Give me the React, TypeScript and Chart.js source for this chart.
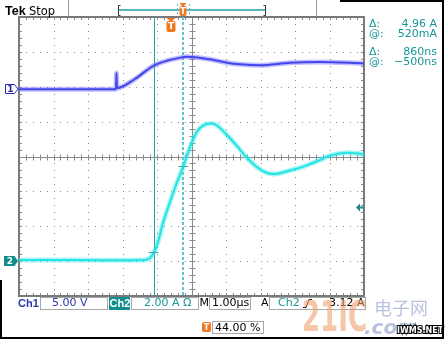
import React, { useEffect, useRef } from "react";
import { Chart, registerables } from "chart.js";
Chart.register(...registerables);

// time axis in microseconds (1.00 µs/div, trigger at 44 %)
const timeMin = -4.4;
const timeMax = 5.6;
// Ch1: volts (5.00 V/div)
const ch1Times = [-4.4, -1.59, -1.575, -1.56, -1.04, -0.516, -0.11, 0.18, 0.47, 1.136, 1.629, 2.006, 2.586, 3.455, 4.325, 5.6];
const ch1Volts = [0, 0, 2.34, 0.19, 1.48, 3.34, 4.1, 4.44, 4.67, 4.3, 3.81, 3.58, 3.44, 3.81, 3.91, 3.72];
const ch1Range = [-29.63, 10.37];
// Ch2: amps (2.00 A/div)
const ch2Times = [-4.4, -0.748, -0.603, -0.487, -0.371, -0.217, -0.023, 0.171, 0.362, 0.557, 0.751, 0.942, 1.165, 1.33, 1.62, 1.91, 2.18, 2.49, 2.78, 3.02, 3.455, 3.841, 4.229, 4.614, 5.0, 5.388, 5.6];
const ch2Amps = [0.07, 0.07, 0.18, 0.51, 1.1, 2.25, 3.39, 4.48, 5.43, 6.54, 7.4, 7.78, 7.89, 7.79, 7.25, 6.62, 5.99, 5.4, 5.07, 5.0, 5.2, 5.42, 5.72, 6.05, 6.2, 6.18, 6.1];
const ch2Range = [-2, 14];
// cursors
const cursorTimes = [-0.5, 0.36];
const cursorAmps = [0.52, 5.48];
const triggerLevel = 3.12;
const readouts = [
  ["Δ:", "4.96 A"],
  ["@:", "520mA"],
  ["Δ:", "860ns"],
  ["@:", "−500ns"],
];

const TEAL = "#1a9696";
const BLUE = "#2838a8";
const ORANGE = "#f07820";
const FONT = "'DejaVu Sans', sans-serif";
const ARIAL = "'Liberation Sans', Arial, sans-serif";

function pts(xs: number[], ys: number[]) {
  return xs.map((x, i) => ({ x, y: ys[i] }));
}

const scopePlugin = {
  id: "scope",
  beforeDatasetsDraw(chart: any) {
    const { ctx, chartArea: a, scales } = chart;
    const L = a.left, R = a.right, T = a.top, B = a.bottom;
    const dx = (R - L) / 10, dy = (B - T) / 8;
    ctx.save();
    // dotted grid
    ctx.fillStyle = "#8a8a8a";
    for (let i = 1; i < 10; i++) {
      if (i === 5) continue;
      const x = Math.round(L + i * dx);
      for (let j = 1; j < 40; j++) {
        ctx.fillRect(x, Math.round(T + (j * dy) / 5), 1, 1);
      }
    }
    for (let j = 1; j < 8; j++) {
      if (j === 4) continue;
      const y = Math.round(T + j * dy);
      for (let i = 1; i < 50; i++) {
        ctx.fillRect(Math.round(L + (i * dx) / 5), y, 1, 1);
      }
    }
    // center crosshair with ticks
    ctx.strokeStyle = "#8a8a8a";
    ctx.lineWidth = 1;
    const cx = Math.round(L + 5 * dx) + 0.5, cy = Math.round(T + 4 * dy) + 0.5;
    ctx.beginPath();
    ctx.moveTo(cx, T); ctx.lineTo(cx, B);
    ctx.moveTo(L, cy); ctx.lineTo(R, cy);
    for (let i = 1; i < 50; i++) {
      const x = Math.round(L + (i * dx) / 5) + 0.5;
      ctx.moveTo(x, cy - 3); ctx.lineTo(x, cy + 3);
      ctx.moveTo(x, T); ctx.lineTo(x, T + 3);
      ctx.moveTo(x, B); ctx.lineTo(x, B - 3);
    }
    for (let j = 1; j < 40; j++) {
      const y = Math.round(T + (j * dy) / 5) + 0.5;
      ctx.moveTo(cx - 3, y); ctx.lineTo(cx + 3, y);
      ctx.moveTo(L, y); ctx.lineTo(L + 3, y);
      ctx.moveTo(R, y); ctx.lineTo(R - 3, y);
    }
    ctx.stroke();
    // border
    ctx.strokeStyle = "#7a7a7a";
    ctx.lineWidth = 2;
    ctx.strokeRect(L, T, R - L, B - T);
    // cursors
    const x1 = Math.round(scales.x.getPixelForValue(cursorTimes[0])) + 0.5;
    const x2 = Math.round(scales.x.getPixelForValue(cursorTimes[1]));
    ctx.strokeStyle = "#26a0a0";
    ctx.lineWidth = 1;
    ctx.beginPath(); ctx.moveTo(x1, T); ctx.lineTo(x1, B); ctx.stroke();
    ctx.strokeStyle = "#5cc6c6";
    ctx.lineWidth = 2;
    ctx.setLineDash([3, 2]);
    ctx.beginPath(); ctx.moveTo(x2, T); ctx.lineTo(x2, B); ctx.stroke();
    ctx.setLineDash([]);
    ctx.restore();
  },
  afterDraw(chart: any) {
    const { ctx, chartArea: a, scales } = chart;
    const R = a.right, T = a.top;
    ctx.save();
    // cursor crossing ticks on Ch2
    ctx.strokeStyle = "#48a8a8";
    ctx.lineWidth = 1;
    for (let k = 0; k < 2; k++) {
      const x = scales.x.getPixelForValue(cursorTimes[k]);
      const y = Math.round(scales.y.getPixelForValue(cursorAmps[k])) + 0.5;
      ctx.beginPath(); ctx.moveTo(x - 5, y); ctx.lineTo(x + 5, y); ctx.stroke();
    }
    // trigger position marker (orange T)
    const tx = Math.round(scales.x.getPixelForValue(0));
    const drawT = (x: number, y: number, w: number, h: number, arrow: boolean) => {
      ctx.fillStyle = ORANGE;
      if (arrow) {
        ctx.beginPath();
        ctx.moveTo(x - w / 2, y); ctx.lineTo(x + w / 2, y); ctx.lineTo(x, y + 4); ctx.closePath(); ctx.fill();
        y += 3;
      }
      ctx.beginPath();
      ctx.roundRect(x - w / 2, y, w, h, 2);
      ctx.fill();
      ctx.fillStyle = "#fff";
      ctx.font = `bold ${h - 2}px ${FONT}`;
      ctx.textAlign = "center";
      ctx.textBaseline = "middle";
      ctx.fillText("T", x, y + h / 2 + 0.5);
    };
    drawT(tx, T + 1, 9, 11, true);
    // trigger level arrow on right
    const ty = Math.round(scales.y.getPixelForValue(triggerLevel)) + 0.5;
    ctx.fillStyle = "#138c8c";
    ctx.beginPath();
    ctx.moveTo(R - 8, ty); ctx.lineTo(R - 4, ty - 4); ctx.lineTo(R - 4, ty + 4); ctx.closePath(); ctx.fill();
    ctx.fillRect(R - 4, ty - 1, 3, 2);
    // channel ground markers
    const g1 = Math.round(scales.y1.getPixelForValue(0));
    ctx.fillStyle = "#fff";
    ctx.strokeStyle = "#2a2ab0";
    ctx.lineWidth = 1;
    ctx.beginPath();
    ctx.moveTo(5.5, g1 - 4.5); ctx.lineTo(14.5, g1 - 4.5); ctx.lineTo(18, g1); ctx.lineTo(14.5, g1 + 4.5); ctx.lineTo(5.5, g1 + 4.5); ctx.closePath();
    ctx.fill(); ctx.stroke();
    ctx.fillStyle = "#2a2ab0";
    ctx.font = `bold 9px ${FONT}`;
    ctx.textAlign = "center";
    ctx.textBaseline = "middle";
    ctx.fillText("1", 10.5, g1 + 0.5);
    const g2 = Math.round(scales.y.getPixelForValue(0));
    ctx.fillStyle = "#138c8c";
    ctx.beginPath();
    ctx.moveTo(4, g2 - 5); ctx.lineTo(14.5, g2 - 5); ctx.lineTo(18, g2); ctx.lineTo(14.5, g2 + 5); ctx.lineTo(4, g2 + 5); ctx.closePath();
    ctx.fill();
    ctx.fillStyle = "#fff";
    ctx.fillText("2", 10, g2 + 0.5);

    // header
    ctx.textAlign = "left";
    ctx.textBaseline = "alphabetic";
    ctx.fillStyle = "#000";
    ctx.font = `bold 12.5px ${ARIAL}`;
    ctx.fillText("Tek", 5, 15);
    ctx.font = `11.5px ${FONT}`;
    ctx.fillText("Stop", 29, 15);
    ctx.strokeStyle = "#9a9a9a";
    ctx.lineWidth = 1;
    ctx.beginPath();
    ctx.moveTo(68.5, 0); ctx.lineTo(68.5, 16);
    ctx.moveTo(316.5, 0); ctx.lineTo(316.5, 16);
    ctx.stroke();
    // record bar
    ctx.strokeStyle = "#5ab8b8";
    ctx.lineWidth = 2;
    ctx.beginPath(); ctx.moveTo(119, 10); ctx.lineTo(265, 10); ctx.stroke();
    ctx.strokeStyle = "#333";
    ctx.lineWidth = 1;
    ctx.beginPath();
    ctx.moveTo(120.5, 5.5); ctx.lineTo(118.5, 5.5); ctx.lineTo(118.5, 15.5); ctx.lineTo(120.5, 15.5);
    ctx.moveTo(263.5, 5.5); ctx.lineTo(265.5, 5.5); ctx.lineTo(265.5, 15.5); ctx.lineTo(263.5, 15.5);
    ctx.stroke();
    ctx.strokeStyle = "#5cc6c6";
    ctx.setLineDash([2, 2]);
    ctx.lineWidth = 1;
    ctx.beginPath();
    ctx.moveTo(177.5, 4); ctx.lineTo(177.5, 16);
    ctx.moveTo(189.5, 4); ctx.lineTo(189.5, 16);
    ctx.stroke();
    ctx.setLineDash([]);
    drawT(183, 3, 7, 10, true);

    // right readouts
    ctx.textBaseline = "middle";
    ctx.font = `11px ${FONT}`;
    ctx.fillStyle = TEAL;
    const ry = [24.5, 34.5, 52, 62.5];
    readouts.forEach((r, i) => {
      ctx.textAlign = "left";
      ctx.fillText(r[0], 369, ry[i]);
      ctx.textAlign = "right";
      ctx.fillText(r[1], 437, ry[i]);
    });

    // bottom status line
    const by = 303.5;
    const box = (x0: number, x1: number, y0: number, y1: number) => {
      ctx.fillStyle = "#fff";
      ctx.fillRect(x0, y0, x1 - x0, y1 - y0);
      ctx.strokeStyle = "#a8a8a8";
      ctx.lineWidth = 1;
      ctx.strokeRect(x0 + 0.5, y0 + 0.5, x1 - x0 - 1, y1 - y0 - 1);
    };
    box(40, 108, 297, 310);
    box(131, 199, 297, 310);
    box(209, 251, 297, 310);
    box(269, 366, 297, 310);
    ctx.fillStyle = "#138c8c";
    ctx.fillRect(109, 297, 21, 13);
    ctx.textAlign = "left";
    ctx.font = `bold 11px ${ARIAL}`;
    ctx.fillStyle = BLUE;
    ctx.fillText("Ch1", 18, by);
    ctx.fillStyle = "#fff";
    ctx.fillText("Ch2", 109.5, by);
    ctx.font = `11px ${FONT}`;
    ctx.fillStyle = BLUE;
    ctx.fillText("5.00 V", 52, by);
    ctx.fillStyle = TEAL;
    ctx.fillText("2.00 A Ω", 144, by);
    ctx.fillStyle = "#000";
    ctx.fillText("M", 199.5, by);
    ctx.fillText("1.00µs", 212, by);
    ctx.fillText("A", 261, by);
    ctx.fillStyle = TEAL;
    ctx.fillText("Ch2", 278, by);
    ctx.fillStyle = "#000";
    ctx.fillText("3.12 A", 329, by);
    // rising edge symbol
    ctx.strokeStyle = "#000";
    ctx.lineWidth = 1;
    ctx.beginPath();
    ctx.moveTo(303, 307.5); ctx.lineTo(306, 307.5); ctx.lineTo(309, 299.5); ctx.lineTo(312, 299.5);
    ctx.stroke();
    // trigger position readout
    drawT(206.5, 322, 9, 10, false);
    box(212, 264, 321, 334);
    ctx.fillStyle = "#000";
    ctx.font = `11px ${FONT}`;
    ctx.textAlign = "left";
    ctx.textBaseline = "middle";
    ctx.fillText("44.00 %", 215, 328);

    // watermark
    ctx.globalAlpha = 0.6;
    ctx.save();
    ctx.translate(302, 331);
    ctx.scale(0.62, 1);
    ctx.fillStyle = "#f0a070";
    ctx.font = `bold 42px ${FONT}`;
    ctx.textAlign = "left";
    ctx.textBaseline = "alphabetic";
    ctx.fillText("21IC", 0, 0);
    ctx.restore();
    ctx.fillStyle = "#8898c8";
    ctx.font = `18px 'Noto Sans CJK SC', sans-serif`;
    ctx.textAlign = "left";
    ctx.textBaseline = "alphabetic";
    ctx.fillText("电子网", 374, 315);
    ctx.font = `italic bold 20px ${FONT}`;
    ctx.fillText(".com", 364, 334);
    ctx.globalAlpha = 1;
    ctx.font = `bold 8px ${FONT}`;
    ctx.lineWidth = 2;
    ctx.strokeStyle = "#000";
    ctx.strokeText("IWMS.NET", 397, 333);
    ctx.fillStyle = "#fff";
    ctx.fillText("IWMS.NET", 397, 333);

    // outer frame
    ctx.strokeStyle = "#000";
    ctx.lineWidth = 2;
    ctx.beginPath();
    ctx.moveTo(443, 0); ctx.lineTo(443, 338); ctx.lineTo(0, 338);
    ctx.moveTo(1, 280); ctx.lineTo(1, 338);
    ctx.moveTo(340, 1); ctx.lineTo(443, 1);
    ctx.stroke();
    ctx.restore();
  },
};

export default function App() {
  const ref = useRef<HTMLCanvasElement | null>(null);
  useEffect(() => {
    if (!ref.current) return;
    const ch1 = pts(ch1Times, ch1Volts);
    const ch2 = pts(ch2Times, ch2Amps);
    const c1 = { pointRadius: 0, fill: false, cubicInterpolationMode: "monotone" as const, yAxisID: "y1" };
    const c2 = { pointRadius: 0, fill: false, tension: 0.4, yAxisID: "y" };
    const chart = new Chart(ref.current, {
      type: "line",
      data: {
        datasets: [
          { ...c1, label: "Ch1 halo", data: ch1, borderColor: "rgba(110,110,255,0.45)", borderWidth: 5 },
          { ...c1, label: "Ch1", data: ch1, borderColor: "#2424dc", borderWidth: 2 },
          { ...c2, label: "Ch2 halo", data: ch2, borderColor: "rgba(60,235,235,0.45)", borderWidth: 5 },
          { ...c2, label: "Ch2", data: ch2, borderColor: "#12dcdc", borderWidth: 2 },
        ],
      },
      options: {
        responsive: false,
        animation: false,
        devicePixelRatio: 1,
        layout: { padding: { left: 19, top: 17, right: 81, bottom: 44 } },
        plugins: { legend: { display: false }, tooltip: { enabled: false } },
        scales: {
          x: { type: "linear", display: false, min: timeMin, max: timeMax },
          y: { display: false, min: ch2Range[0], max: ch2Range[1] },
          y1: { display: false, min: ch1Range[0], max: ch1Range[1] },
        },
      },
      plugins: [scopePlugin],
    });
    return () => chart.destroy();
  }, []);
  return (
    <div style={{ position: "absolute", left: 0, top: 0, width: 445, height: 340, background: "#fff" }}>
      <canvas ref={ref} width={445} height={340} style={{ display: "block" }} />
    </div>
  );
}
